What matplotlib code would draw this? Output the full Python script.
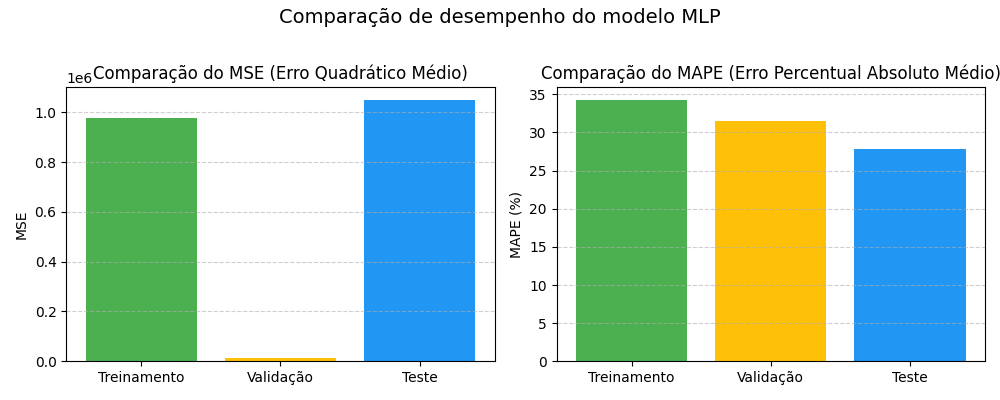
import matplotlib
matplotlib.use("Agg")
import matplotlib.pyplot as plt

# dados
conjuntos = ['Treinamento', 'Validação', 'Teste']
mse = [0.977e6, 0.012e6, 1.049e6]
mape = [34.25, 31.5, 27.8]
cores = ['#4CAF50', '#FFC107', '#2196F3']

fig, (ax1, ax2) = plt.subplots(1, 2, figsize=(10, 4), dpi=100)
fig.suptitle('Comparação de desempenho do modelo MLP', fontsize=14)

ax1.bar(conjuntos, mse, color=cores)
ax1.set_title('Comparação do MSE (Erro Quadrático Médio)')
ax1.set_ylabel('MSE')
ax1.grid(axis='y', linestyle='--', alpha=0.6)

ax2.bar(conjuntos, mape, color=cores)
ax2.set_title('Comparação do MAPE (Erro Percentual Absoluto Médio)')
ax2.set_ylabel('MAPE (%)')
ax2.grid(axis='y', linestyle='--', alpha=0.6)

plt.tight_layout()
plt.savefig('out.png')
